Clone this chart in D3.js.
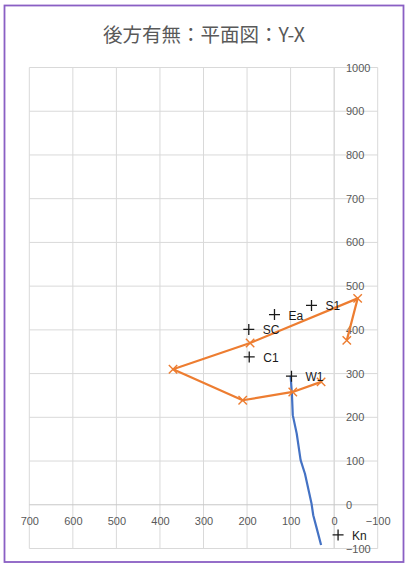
<!DOCTYPE html>
<html><head><meta charset="utf-8">
<script src="https://cdn.jsdelivr.net/npm/d3@7"></script>
<style>
html,body{margin:0;padding:0;background:#fff;}
svg{display:block;}
</style></head>
<body>
<script>
// ---- data ----
const title = "後方有無：平面図：Y-X";
const xTicks = [700,600,500,400,300,200,100,0,-100];
const yTicks = [-100,0,100,200,300,400,500,600,700,800,900,1000];
// orange polyline (x markers)
const orangeX = [-29, -54, 193, 370, 210, 95, 30];
const orangeY = [376, 472, 370, 310, 239, 258, 281];
// blue line
const blueX = [100, 97, 95, 86, 77, 67, 57, 52, 48, 40, 30];
const blueY = [295, 254, 205, 163, 102, 71, 26, 3, -24, -54, -92];
// labelled points (+ markers)
const ptNames = ["S1","Ea","SC","C1","W1","Kn"];
const ptX = [52, 137, 196, 195, 98, -9];
const ptY = [456, 435, 401, 338, 294, -69];

const W = 408, H = 564;
const svg = d3.select("body").append("svg").attr("width", W).attr("height", H);
svg.append("rect").attr("x",0).attr("y",0).attr("width",W).attr("height",H).attr("fill","#fff");
svg.append("rect").attr("x",4.5).attr("y",5.5).attr("width",399).attr("height",556.5)
  .attr("fill","none").attr("stroke","#8a5fc4").attr("stroke-width",1.8);

svg.append("text").attr("x",204).attr("y",33).attr("text-anchor","middle")
  .attr("dominant-baseline","central")
  .attr("font-family","'Noto Sans CJK JP','Noto Sans',sans-serif").attr("font-size",19.5)
  .attr("fill","#595959").text(title);

const x = d3.scaleLinear().domain([700,-100]).range([29.3,377.7]);
const y = d3.scaleLinear().domain([-100,1000]).range([548.5,67.5]);

const grid = svg.append("g");
grid.selectAll(".vg").data(xTicks).join("line")
  .attr("x1",d=>x(d)).attr("x2",d=>x(d)).attr("y1",y(1000)).attr("y2",y(-100))
  .attr("stroke",d=>d===0?"#c8c8c8":"#d9d9d9").attr("stroke-width",1);
grid.selectAll(".hg").data(yTicks).join("line")
  .attr("x1",x(700)).attr("x2",x(-100)).attr("y1",d=>y(d)).attr("y2",d=>y(d))
  .attr("stroke",d=>d===0?"#c8c8c8":"#d9d9d9").attr("stroke-width",1);

const fontTick = "'Liberation Sans',Arial,sans-serif";
const xAxis = svg.append("g").attr("transform",`translate(0,${y(0)})`)
  .call(d3.axisBottom(x).tickValues(xTicks).tickSize(0).tickPadding(12.6).tickFormat(d3.format("d")));
const yAxis = svg.append("g").attr("transform",`translate(${x(0)},0)`)
  .call(d3.axisRight(y).tickValues(yTicks).tickSize(0).tickPadding(11.8).tickFormat(d3.format("d")));
[xAxis,yAxis].forEach(a=>{
  a.select(".domain").remove();
  a.selectAll("text").attr("font-family",fontTick).attr("font-size",11).attr("fill","#595959");
});

// blue line
const blueData = blueX.map((v,i)=>[v,blueY[i]]);
svg.append("path").datum(blueData)
  .attr("d",d3.line().x(d=>x(d[0])).y(d=>y(d[1])))
  .attr("fill","none").attr("stroke","#4472C4").attr("stroke-width",2.2).attr("stroke-linejoin","round");

// orange line
const orangeData = orangeX.map((v,i)=>[v,orangeY[i]]);
svg.append("path").datum(orangeData)
  .attr("d",d3.line().x(d=>x(d[0])).y(d=>y(d[1])))
  .attr("fill","none").attr("stroke","#ED7D31").attr("stroke-width",2.2).attr("stroke-linejoin","round");
const xm = 4.2;
svg.append("g").selectAll("path").data(orangeData).join("path")
  .attr("d",d=>{const cx=x(d[0]),cy=y(d[1]);return `M${cx-xm},${cy-xm}L${cx+xm},${cy+xm}M${cx-xm},${cy+xm}L${cx+xm},${cy-xm}`;})
  .attr("stroke","#ED7D31").attr("stroke-width",1.4).attr("fill","none");

// plus markers + labels
const pts = ptNames.map((n,i)=>({n, x:ptX[i], y:ptY[i]}));
const pm = 5.5;
const pg = svg.append("g");
pg.selectAll("path").data(pts).join("path")
  .attr("d",d=>{const cx=x(d.x),cy=y(d.y);return `M${cx-pm},${cy}L${cx+pm},${cy}M${cx},${cy-pm}L${cx},${cy+pm}`;})
  .attr("stroke","#1a1a1a").attr("stroke-width",1.3);
pg.selectAll("text").data(pts).join("text")
  .attr("x",d=>x(d.x)+14).attr("y",d=>y(d.y)+1)
  .attr("dominant-baseline","central")
  .attr("font-family",fontTick).attr("font-size",12).attr("fill","#1a1a1a").text(d=>d.n);
</script>
</body></html>
